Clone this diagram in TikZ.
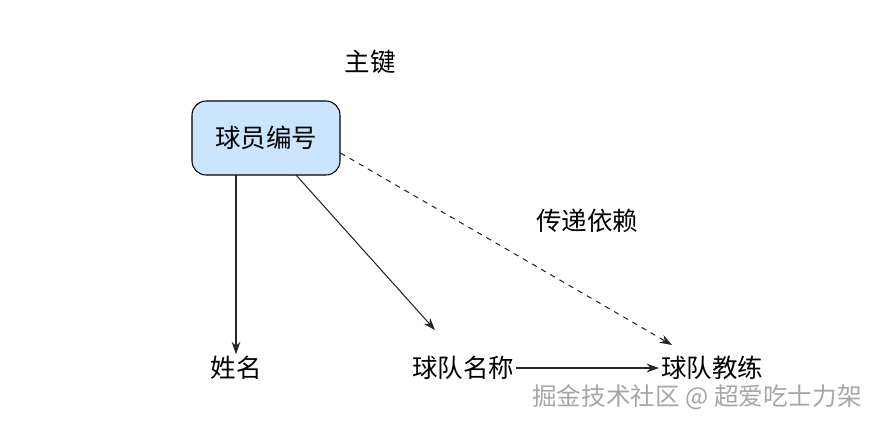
\documentclass[tikz,border=0pt]{standalone}
\usepackage{fontspec}
\newfontfamily\cjk{Noto Sans CJK SC}
\usetikzlibrary{arrows.meta}
\definecolor{keyfill}{HTML}{CCE5FF}
\begin{document}
\begin{tikzpicture}[
  x=0.02cm, y=-0.02cm,
  font=\cjk\fontsize{14.5}{17}\selectfont,
  box/.style={draw, semithick, rounded corners=8pt, fill=keyfill, minimum width=2.96cm, minimum height=1.48cm},
  lbl/.style={inner sep=1pt},
  arrow/.style={-{Stealth[length=7pt,width=5pt]}, semithick, black!85},
  dashedarrow/.style={arrow, dashed}
]
\useasboundingbox (0,0) rectangle (879,424);

% key box and labels
\node[box] (key) at (266,138) {球员编号};
\node[lbl] (pk) at (370,62) {主键};
\node[lbl] (trans) at (587,221) {传递依赖};

% attributes
\node[lbl] (name) at (236,368) {姓名};
\node[lbl] (team) at (463,368) {球队名称};
\node[lbl] (coach) at (712,368) {球队教练};

% dependencies
\draw[arrow] (236,175) -- (name.north -| 236,0);
\draw[arrow] (296,175) -- (435,330);
\draw[dashedarrow] (key.east |- 0,153) -- (672,345);
\draw[arrow] (team.east) -- (coach.west);

% watermark
\node[text=black!35, font=\cjk\fontsize{14}{16}\selectfont] (mark) at (697,397) {掘金技术社区 @ 超爱吃士力架};
\end{tikzpicture}
\end{document}
